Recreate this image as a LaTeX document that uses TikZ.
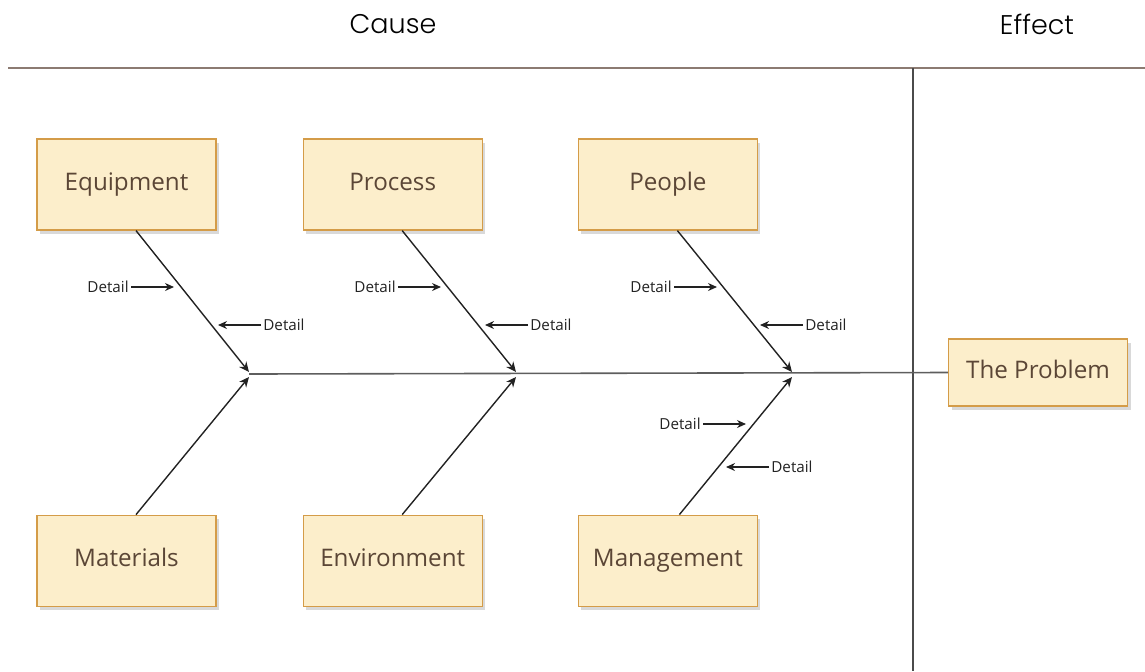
\documentclass[tikz,border=0pt]{standalone}
\usepackage{fontspec}
\setmainfont{Open Sans}
\newfontfamily\headfont{Poppins Light}
\usetikzlibrary{arrows.meta,positioning,shadows}
\definecolor{ink}{HTML}{222222}
\definecolor{bark}{HTML}{5B4636}
\definecolor{cream}{HTML}{FCEECB}
\definecolor{amber}{HTML}{D49C48}
\definecolor{rule}{HTML}{8C7B72}
\definecolor{spine}{HTML}{5E5E5E}

\begin{document}
\begin{tikzpicture}[x=0.5pt,y=-0.5pt,
  cause/.style={draw=amber, line width=0.6pt, fill=cream, text=bark, font=\fontsize{12.1}{14}\selectfont, minimum width=89.5pt, minimum height=45.5pt, inner sep=0pt, text height=8.4pt, text depth=2.6pt, drop shadow={shadow xshift=1.5pt, shadow yshift=-2pt, opacity=0.3}},
  detail/.style={font=\fontsize{7.6}{9}\selectfont, text=ink, inner sep=1pt},
  head/.style={font=\headfont\fontsize{13.5}{16}\selectfont, text=black},
  bone/.style={-{Stealth[length=5pt,width=4.5pt]}, line width=0.7pt, ink},
  dart/.style={-{Stealth[length=4.5pt,width=4pt]}, line width=0.6pt, ink}
]
  \useasboundingbox (0,0) rectangle (1145,671);

  % header and the cause / effect split
  \node[head] (causehd) at (393,24) {Cause};
  \node[head] (effecthd) at (1037,24) {Effect};
  \draw[rule, line width=1pt] (8,68) -- (1145,68);
  \draw[spine!80!black, line width=0.8pt] (913,68) -- (913,671);

  % category boxes
  \node[cause] (equip) at (126.5,184.5) {Equipment};
  \node[cause, right=43pt of equip] (process) {Process};
  \node[cause, right=47.5pt of process] (people) {People};
  \node[cause, below=142pt of equip] (material) {Materials};
  \node[cause, below=142pt of process] (environ) {Environment};
  \node[cause, below=142pt of people] (manage) {Management};
  \node[cause, minimum height=33.5pt] (problem) at (1038,372.5) {The Problem};

  % spine
  \coordinate (j1) at (249,374);
  \coordinate (j2) at (516,374);
  \coordinate (j3) at (792,374);
  \draw[spine, line width=0.8pt] (j1) -- (problem.west);

  % bones
  \draw[bone] ([xshift=4.75pt]equip.south) -- ([yshift=1pt]j1);
  \draw[bone] ([xshift=4.75pt]process.south) -- ([yshift=1pt]j2);
  \draw[bone] ([xshift=4.75pt]people.south) -- ([yshift=1pt]j3);
  \draw[bone] ([xshift=4.75pt]material.north) -- ([yshift=-1.5pt]j1);
  \draw[bone] ([xshift=4.75pt]environ.north) -- ([yshift=-1.5pt]j2);
  \draw[bone] ([xshift=5.75pt]manage.north) -- ([yshift=-1.5pt]j3);

  % details on the bones
  \coordinate (t1) at (174,287);
  \coordinate (t2) at (218,325);
  \coordinate (t3) at (441,287);
  \coordinate (t4) at (485,325);
  \coordinate (t5) at (717,287);
  \coordinate (t6) at (760,325);
  \coordinate (t7) at (746,424);
  \coordinate (t8) at (726,467);
  \node[detail, anchor=east] (d1) at (131,287) {Detail};
  \node[detail, anchor=west] (d2) at (261,325) {Detail};
  \node[detail, anchor=east] (d3) at (398,287) {Detail};
  \node[detail, anchor=west] (d4) at (528,325) {Detail};
  \node[detail, anchor=east] (d5) at (674,287) {Detail};
  \node[detail, anchor=west] (d6) at (803,325) {Detail};
  \node[detail, anchor=east] (d7) at (703,424) {Detail};
  \node[detail, anchor=west] (d8) at (769,467) {Detail};
  \draw[dart] (d1.east) -- (t1);
  \draw[dart] (d2.west) -- (t2);
  \draw[dart] (d3.east) -- (t3);
  \draw[dart] (d4.west) -- (t4);
  \draw[dart] (d5.east) -- (t5);
  \draw[dart] (d6.west) -- (t6);
  \draw[dart] (d7.east) -- (t7);
  \draw[dart] (d8.west) -- (t8);
\end{tikzpicture}
\end{document}
